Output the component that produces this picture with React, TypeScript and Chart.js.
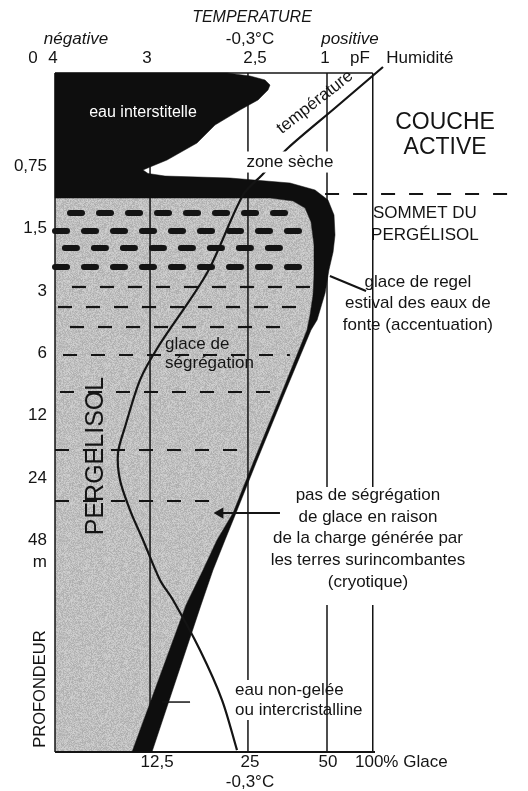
import { useEffect, useRef } from "react";
import { Chart, registerables } from "chart.js";

Chart.register(...registerables);

// x: schematic horizontal position (0 = left edge of diagram, 100 = 100% glace)
// y: depth step (1 = 0,75 m, 2 = 1,5 m, 3 = 3 m, ... 7 = 48 m)
const depthLabels = ["0,75", "1,5", "3", "6", "12", "24", "48"];
const depthSteps = [1, 2, 3, 4, 5, 6, 7];
const pfLabels = ["4", "3", "2,5", "1"];
const glaceLabels = ["12,5", "25", "50", "100% Glace"];

// outer edge of the black zones (interstitial water + regel ice crust)
const outerEdge: [number, number][] = [
  [0, -0.5], [53.75, -0.5], [60.94, -0.452], [65.625, -0.388], [67.19, -0.307], [66.56, -0.227],
  [63.44, -0.067], [57.8, 0.094], [50, 0.335], [44.375, 0.624], [35, 0.897], [29.69, 1.009],
  [27.5, 1.057], [29.06, 1.113], [34.375, 1.154], [54.69, 1.186], [73.44, 1.266], [81.25, 1.378],
  [85.31, 1.539], [87.19, 1.78], [87.5, 2.1], [86.9, 2.374], [85.6, 2.663], [84.4, 3.032],
  [81.9, 3.465], [80, 3.626], [71.25, 4.702], [62.81, 5.761], [56.56, 6.564], [53.125, 6.997],
  [49.375, 7.479], [45.625, 8.04], [30.3, 10.4],
];
// inner edge = boundary of the grey permafrost zone
const innerEdge: [number, number][] = [
  [67.19, 1.507], [74.375, 1.555], [78.125, 1.667], [80, 1.892], [80.94, 2.261], [80.94, 2.743],
  [80.625, 3.064], [79.69, 3.385], [78.75, 3.626], [70.31, 4.702], [61.875, 5.761], [55.625, 6.564],
  [50.625, 6.997], [46.25, 7.479], [40.94, 8.04], [24.06, 10.4],
];
const permafrostTop = 1.507;
const diagramTop = -0.5;
const diagramBottom = 10.4;

// temperature profile
const temperatureCurve: [number, number][] = [
  [102.5, -0.596], [87.5, 0.062], [72.8, 0.704], [64.7, 1.137], [58.75, 1.459], [47.5, 2.711],
  [32.2, 3.899], [26.56, 4.429], [21.875, 5.183], [19.69, 5.6], [20.31, 6.034], [23.44, 6.516],
  [27.5, 6.997], [32.8, 7.639], [36.875, 7.96], [45.3, 8.763], [52.2, 9.566], [56.875, 10.369],
];

// ice lenses: [depth, from, to]
const thickLenses: [number, number, number][] = [
  [1.748, 4.69, 74.4], [2.037, 0, 78.1], [2.31, 3.1, 74.4], [2.614, 0, 79.7],
];
const thinLenses: [number, number, number][] = [
  [2.935, 5.3, 80.3], [3.257, 0.94, 78.75], [3.578, 4.69, 74.4], [4.027, 2.5, 73.4],
  [4.621, 1.56, 69.7], [5.552, 0, 60.9], [6.371, 0, 51.6],
];

// reference verticals: [x, from, to]
const refLines: [number, number, number][] = [
  [0, -0.5, 10.4], [29.7, -0.5, 10.4], [60.3, -0.5, 9.245], [60.3, 9.887, 10.4],
  [85, -0.5, 6.147], [85, 8.04, 10.4], [99.3, -0.5, 6.147], [99.3, 8.04, 10.4],
];
const permafrostTableLine: [number, number][] = [[84.4, 1.442], [143.75, 1.442]];
const regelPointer: [number, number][] = [[85.9, 2.759], [97.2, 3.0]];
const cryoticArrow: [number, number][] = [[70.3, 6.564], [51.6, 6.564]];
const unfrozenPointer: [number, number][] = [[33.4, 9.598], [42.2, 9.598]];

type Note = {
  t: string; x: number; y: number; size: number; italic?: boolean;
  align?: CanvasTextAlign; color?: string; rot?: number; bg?: boolean;
};

const notes: Note[] = [
  { t: "TEMPERATURE", x: 61.56, y: -1.383, size: 16, italic: true },
  { t: "négative", x: 6.56, y: -1.046, size: 17, italic: true },
  { t: "-0,3°C", x: 60.94, y: -1.046, size: 17 },
  { t: "positive", x: 92.19, y: -1.046, size: 17, italic: true },
  { t: "0", x: -6.875, y: -0.741, size: 17 },
  { t: pfLabels[0], x: -0.625, y: -0.741, size: 17 },
  { t: pfLabels[1], x: 28.75, y: -0.741, size: 17 },
  { t: pfLabels[2], x: 62.5, y: -0.741, size: 17 },
  { t: pfLabels[3], x: 84.4, y: -0.741, size: 17 },
  { t: "pF", x: 95.3, y: -0.741, size: 17 },
  { t: "Humidité", x: 114, y: -0.741, size: 17 },
  { t: "eau interstitelle", x: 27.5, y: 0.142, size: 16, color: "#ffffff" },
  { t: "température", x: 81.25, y: -0.03, size: 17, rot: -38 },
  { t: "COUCHE", x: 121.9, y: 0.303, size: 23 },
  { t: "ACTIVE", x: 121.9, y: 0.704, size: 23 },
  { t: "zone sèche", x: 73.4, y: 0.929, size: 17, bg: true },
  { t: "SOMMET DU", x: 115.6, y: 1.748, size: 17 },
  { t: "PERGÉLISOL", x: 115.6, y: 2.1, size: 17 },
  { t: "glace de regel", x: 113.4, y: 2.855, size: 17 },
  { t: "estival des eaux de", x: 113.4, y: 3.192, size: 17 },
  { t: "fonte (accentuation)", x: 113.4, y: 3.546, size: 17 },
  { t: "glace de", x: 34.4, y: 3.851, size: 17, align: "left" },
  { t: "ségrégation", x: 34.4, y: 4.156, size: 17, align: "left" },
  { t: "PERGELISOL", x: 12.8, y: 5.649, size: 25, rot: -90 },
  { t: "pas de ségrégation", x: 97.8, y: 6.275, size: 17 },
  { t: "de glace en raison", x: 97.8, y: 6.628, size: 17 },
  { t: "de la charge générée par", x: 97.8, y: 6.965, size: 17 },
  { t: "les terres surincombantes", x: 97.8, y: 7.318, size: 17 },
  { t: "(cryotique)", x: 97.8, y: 7.671, size: 17 },
  { t: "PROFONDEUR", x: -4.69, y: 9.39, size: 16.5, rot: -90 },
  { t: "eau non-gelée", x: 56.25, y: 9.405, size: 17, align: "left" },
  { t: "ou intercristalline", x: 56.25, y: 9.726, size: 17, align: "left" },
  { t: glaceLabels[0], x: 31.9, y: 10.56, size: 17 },
  { t: glaceLabels[1], x: 60.94, y: 10.56, size: 17 },
  { t: glaceLabels[2], x: 85.3, y: 10.56, size: 17 },
  { t: glaceLabels[3], x: 93.75, y: 10.56, size: 17, align: "left" },
  { t: "-0,3°C", x: 60.94, y: 10.88, size: 17 },
  { t: "m", x: -2.5, y: 7.35, size: 17, align: "right" },
];

const pts = (a: [number, number][]) => a.map(([x, y]) => ({ x, y }));

function line(data: [number, number][], extra: any = {}) {
  return {
    data: pts(data),
    showLine: true,
    pointRadius: 0,
    borderColor: "#141414",
    borderWidth: 1.5,
    fill: false,
    clip: false,
    tension: 0,
    order: 9,
    ...extra,
  };
}

// fine grain texture for the grey permafrost fill (deterministic hash, style only)
function grainPattern(): CanvasPattern | string {
  const size = 97;
  const c = document.createElement("canvas");
  c.width = size;
  c.height = size;
  const g = c.getContext("2d");
  if (!g) return "#c8c8c8";
  const img = g.createImageData(size, size);
  for (let i = 0; i < size * size; i++) {
    let h = Math.imul(i + 12345, 2654435761) >>> 0;
    h ^= h >>> 15;
    h = Math.imul(h, 2246822519) >>> 0;
    h ^= h >>> 13;
    const v = 191 + (h % 19);
    img.data[i * 4] = v;
    img.data[i * 4 + 1] = v;
    img.data[i * 4 + 2] = v;
    img.data[i * 4 + 3] = 255;
  }
  g.putImageData(img, 0, 0);
  return g.createPattern(c, "repeat") || "#c8c8c8";
}

const FONT = '"Liberation Sans", Arial, Helvetica, sans-serif';

const textPlugin = {
  id: "diagramText",
  afterDatasetsDraw(chart: any) {
    const { ctx, scales } = chart;
    const sx = scales.x;
    const sy = scales.y;
    ctx.save();
    ctx.textBaseline = "middle";
    ctx.font = `17px ${FONT}`;
    ctx.fillStyle = "#141414";
    ctx.textAlign = "right";
    depthLabels.forEach((lab, i) => {
      ctx.fillText(lab, sx.getPixelForValue(-2.5), sy.getPixelForValue(depthSteps[i]));
    });
    notes.forEach((n) => {
      const px = sx.getPixelForValue(n.x);
      const py = sy.getPixelForValue(n.y);
      ctx.save();
      ctx.font = `${n.italic ? "italic " : ""}${n.size}px ${FONT}`;
      ctx.textAlign = n.align || "center";
      ctx.translate(px, py);
      if (n.rot) ctx.rotate((n.rot * Math.PI) / 180);
      if (n.bg) {
        const w = ctx.measureText(n.t).width;
        ctx.fillStyle = "#ffffff";
        ctx.fillRect(-w / 2 - 3, -n.size * 0.62, w + 6, n.size * 1.24);
      }
      ctx.fillStyle = n.color || "#141414";
      ctx.fillText(n.t, 0, 0);
      ctx.restore();
    });
    ctx.restore();
  },
};

export default function App() {
  const ref = useRef<HTMLCanvasElement>(null);
  useEffect(() => {
    if (!ref.current) return;
    const blackPolygon: [number, number][] = [
      ...outerEdge,
      ...[...innerEdge].reverse(),
      [0, permafrostTop],
      [0, diagramTop],
    ];
    const grayPolygon: [number, number][] = [
      [0, permafrostTop],
      ...innerEdge,
      [0, diagramBottom],
      [0, permafrostTop],
    ];
    const datasets: any[] = [];
    datasets.push(line(grayPolygon, { fill: "shape", backgroundColor: grainPattern(), borderWidth: 0, borderColor: "rgba(0,0,0,0)", order: 20 }));
    refLines.forEach(([x, a, b]) => datasets.push(line([[x, a], [x, b]], { order: 15 })));
    datasets.push(line([[0, diagramTop], [99.3, diagramTop]], { order: 15 }));
    datasets.push(line([[0, diagramBottom], [100, diagramBottom]], { order: 15, borderWidth: 2 }));
    thickLenses.forEach(([y, a, b]) =>
      datasets.push(line([[a, y], [b, y]], { borderWidth: 6, borderDash: [12, 17], borderCapStyle: "round", order: 14 }))
    );
    thinLenses.forEach(([y, a, b]) =>
      datasets.push(line([[a, y], [b, y]], { borderWidth: 2.2, borderDash: [14, 14], order: 14 }))
    );
    datasets.push(line(blackPolygon, { fill: "shape", backgroundColor: "#0e0e0e", borderColor: "#0e0e0e", borderWidth: 0.5, order: 10 }));
    datasets.push(line(temperatureCurve, { borderWidth: 2.2, tension: 0.3, order: 5 }));
    datasets.push(line(permafrostTableLine, { borderWidth: 2, borderDash: [14, 14], order: 5 }));
    datasets.push(line(regelPointer, { borderWidth: 2, order: 5 }));
    datasets.push(line(unfrozenPointer, { borderWidth: 1.5, order: 5 }));
    datasets.push(
      line(cryoticArrow, {
        borderWidth: 2,
        order: 5,
        pointRadius: [0, 6.5],
        pointStyle: "triangle",
        pointRotation: 270,
        pointBackgroundColor: "#141414",
        pointBorderColor: "#141414",
        pointBorderWidth: 0,
      })
    );

    const chart = new Chart(ref.current, {
      type: "scatter",
      data: { datasets },
      options: {
        animation: false,
        responsive: false,
        devicePixelRatio: 1,
        events: [],
        layout: { padding: { left: 55, right: 153, top: 73, bottom: 39 } },
        scales: {
          x: { type: "linear", min: 0, max: 100, display: false },
          y: { type: "linear", min: diagramTop, max: diagramBottom, reverse: true, display: false },
        },
        plugins: { legend: { display: false }, tooltip: { enabled: false }, title: { display: false } },
      },
      plugins: [textPlugin],
    } as any);
    return () => chart.destroy();
  }, []);
  return (
    <div style={{ position: "absolute", left: 0, top: 0, width: 528, height: 791, background: "#ffffff" }}>
      <canvas ref={ref} width={528} height={791} style={{ width: 528, height: 791, display: "block" }} />
    </div>
  );
}
